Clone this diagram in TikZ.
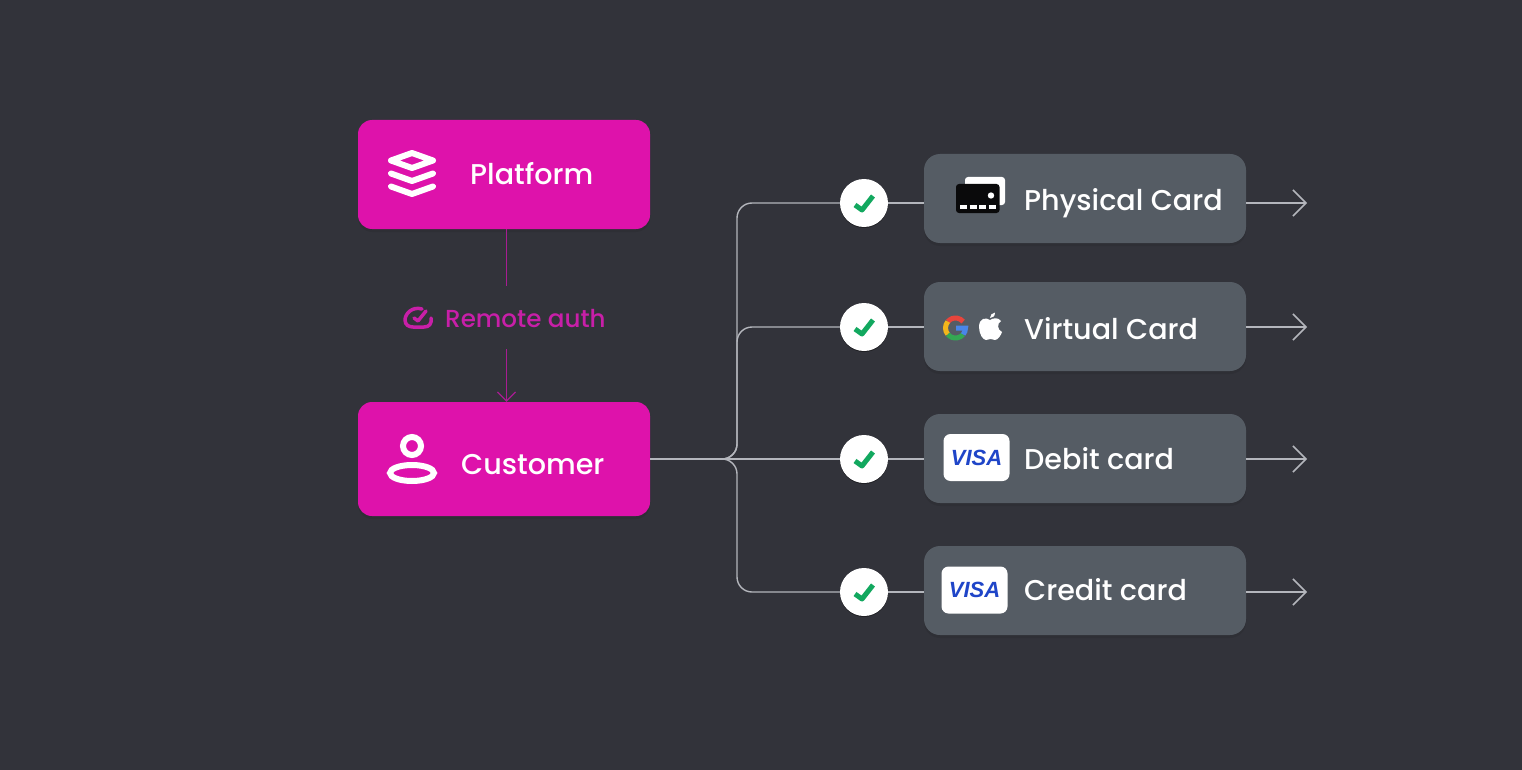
\documentclass[tikz,border=0pt]{standalone}
\usepackage{fontspec}
\setmainfont{Poppins Medium}
\newfontfamily\visafont{Liberation Sans}
\usepackage{tikz}
\usetikzlibrary{arrows.meta,positioning,shadows}

\definecolor{pagebg}{HTML}{32333A}
\definecolor{rolepink}{HTML}{DE12AB}
\definecolor{authpink}{HTML}{C81FA8}
\definecolor{authline}{HTML}{A81C92}
\definecolor{cardgrey}{HTML}{555C64}
\definecolor{linegrey}{HTML}{B4B6BC}
\definecolor{okgreen}{HTML}{12A85F}
\definecolor{visablue}{HTML}{1F45C8}
\definecolor{gred}{HTML}{E8453C}
\definecolor{gyellow}{HTML}{F3B61B}
\definecolor{ggreen}{HTML}{34A853}
\definecolor{gblue}{HTML}{4A86E8}

\tikzset{
    softshadow/.style={drop shadow={shadow xshift=0pt, shadow yshift=-3pt, opacity=.07, fill=black}},
    rolebox/.style={fill=rolepink, rounded corners=14pt, minimum width=292pt, inner sep=0pt, softshadow},
    cardbox/.style={fill=cardgrey, rounded corners=16pt, minimum width=322pt, minimum height=89pt, inner sep=0pt, softshadow},
    boxlabel/.style={anchor=base west, inner sep=0pt, text=white, font=\fontsize{28.6}{30}\selectfont},
    authlabel/.style={anchor=base west, inner sep=0pt, text=authpink, font=\fontsize{24.6}{28}\selectfont},
    okdot/.style={circle, fill=white, minimum size=48pt, inner sep=0pt, drop shadow={shadow xshift=0pt, shadow yshift=-1pt, opacity=.4, fill=black}},
    visabox/.style={fill=white, rounded corners=7pt, minimum width=66pt, minimum height=47pt, inner sep=0pt,
        text=visablue, font=\visafont\bfseries\itshape\fontsize{22}{22}\selectfont},
    link/.style={draw=linegrey, line width=1.4pt, rounded corners=15pt},
    outlink/.style={draw=linegrey, line width=1.4pt, -{Straight Barb[length=13pt,width=26pt,line width=1.6pt]}},
    authlink/.style={draw=authline, line width=1.2pt},
    iconline/.style={draw=white, line width=6pt, line join=round, line cap=round},
    okmark/.pic={\draw[okgreen, line width=5pt, line join=round] (-9,2) -- (-2,7) -- (9,-7);},
}

\begin{document}
\begin{tikzpicture}[x=1pt, y=-1pt]
        \fill[pagebg] (0, 0) rectangle (1522, 770);

        % left column
        \node[rolebox, minimum height=109pt] (platform) at (504, 174.5) {};
        \node[rolebox, minimum height=114pt] (customer) at (504, 459) {};
        \node[boxlabel] (platformtext) at (470, 185) {Platform};
        \node[boxlabel] (customertext) at (461, 474) {Customer};
        \node[authlabel] (authtext) at (445, 327) {Remote auth};

        % layers icon
        \draw[iconline] (391, 160.5) -- (412, 153) -- (433, 160.5) -- (412, 168) -- cycle;
        \draw[iconline] (391, 173.5) -- (412, 181) -- (433, 173.5);
        \draw[iconline] (391, 186.5) -- (412, 194) -- (433, 186.5);

        % person icon
        \draw[white, line width=6pt] (412, 446) circle [radius=9];
        \draw[white, line width=6pt] (412, 473) ellipse [x radius=22, y radius=8];

        % auth icon
        \draw[authpink, line width=3.5pt, line cap=round, line join=round] (422, 309)
                .. controls (412, 306) and (405, 314) .. (405, 320)
                .. controls (405, 325) and (409, 327) .. (413, 327) -- (424, 327)
                .. controls (429, 327) and (432, 324) .. (431, 318);
        \draw[authpink, line width=3.5pt, line cap=round, line join=round] (414, 318) -- (418, 321) -- (426, 311);

        \coordinate (authtop) at (506.5, 286);
        \coordinate (authbottom) at (506.5, 349);
        \draw[authlink] (platform.south -| authtop) -- (authtop);
        \draw[authlink, -{Straight Barb[length=9pt,width=18pt]}] (authbottom) -- (customer.north -| authbottom);

        % cards
        \node[cardbox] (physical) at (1085, 198.5) {};
        \node[cardbox] (virtual) at (1085, 326.5) {};
        \node[cardbox] (debit) at (1085, 458.5) {};
        \node[cardbox] (credit) at (1085, 590.5) {};
        \node[boxlabel] (physicaltext) at (1024, 211) {Physical Card};
        \node[boxlabel] (virtualtext) at (1024, 339) {Virtual Card};
        \node[boxlabel] (debittext) at (1024, 469) {Debit card};
        \node[boxlabel] (credittext) at (1024, 600) {Credit card};

        % card icon
        \fill[white, rounded corners=3pt] (965, 177) rectangle (1005, 205);
        \fill[black!80!pagebg, rounded corners=3pt] (956, 184) rectangle (999.5, 213);
        \fill[white] (991, 195.5) circle [radius=3.2];
        \draw[white, line width=3.5pt, dash pattern=on 7pt off 2.5pt] (960, 207) -- (996, 207);

        % google icon
        \draw[gred, line width=5pt] (955.5, 328) ++(-140:10) arc [start angle=-140, end angle=-40, radius=10];
        \draw[gyellow, line width=5pt] (955.5, 328) ++(-140:10) arc [start angle=-140, end angle=-220, radius=10];
        \draw[ggreen, line width=5pt] (955.5, 328) ++(-220:10) arc [start angle=-220, end angle=-320, radius=10];
        \draw[gblue, line width=5pt] (955.5, 328) ++(-320:10) arc [start angle=-320, end angle=-360, radius=10] -- (956, 328);

        % apple icon
        \fill[white] (990, 320)
                .. controls (986, 317) and (979, 318) .. (979, 327)
                .. controls (979, 334) and (983, 340) .. (986, 340)
                .. controls (988, 340) and (989, 339) .. (990.5, 339)
                .. controls (992, 339) and (993, 340) .. (995, 340)
                .. controls (998, 340) and (1001, 335) .. (1002, 332)
                .. controls (997, 330) and (997, 323) .. (1001, 321)
                .. controls (998, 317) and (993, 318) .. (990, 320) -- cycle;
        \fill[white] (990, 318) .. controls (990, 315) and (992, 313) .. (995, 312.5)
                .. controls (995, 316) and (993, 318) .. (990, 318) -- cycle;

        % visa badges
        \node[visabox] (debitvisa) at (976.5, 457.5) {VISA};
        \node[visabox] (creditvisa) at (974.5, 590) {VISA};

        % checks
        \node[okdot] (okphysical) at (864, 203) {};
        \node[okdot] (okvirtual) at (864, 327) {};
        \node[okdot] (okdebit) at (864, 459) {};
        \node[okdot] (okcredit) at (864, 592) {};
        \pic at (okphysical) {okmark};
        \pic at (okvirtual) {okmark};
        \pic at (okdebit) {okmark};
        \pic at (okcredit) {okmark};

        % connectors
        \coordinate (trunk) at (737, 459);
        \draw[link] (customer.east) -- (trunk) |- (okphysical.west);
        \draw[link] (customer.east) -- (trunk) |- (okvirtual.west);
        \draw[link] (customer.east) -- (okdebit.west);
        \draw[link] (customer.east) -- (trunk) |- (okcredit.west);
        \draw[link] (okphysical.east) -- (physical.west |- okphysical);
        \draw[link] (okvirtual.east) -- (virtual.west |- okvirtual);
        \draw[link] (okdebit.east) -- (debit.west |- okdebit);
        \draw[link] (okcredit.east) -- (credit.west |- okcredit);

        \coordinate (endphysical) at (1307, 203);
        \coordinate (endvirtual) at (1307, 327);
        \coordinate (enddebit) at (1307, 459);
        \coordinate (endcredit) at (1307, 592);
        \draw[outlink] (physical.east |- endphysical) -- (endphysical);
        \draw[outlink] (virtual.east |- endvirtual) -- (endvirtual);
        \draw[outlink] (debit.east |- enddebit) -- (enddebit);
        \draw[outlink] (credit.east |- endcredit) -- (endcredit);
\end{tikzpicture}
\end{document}
